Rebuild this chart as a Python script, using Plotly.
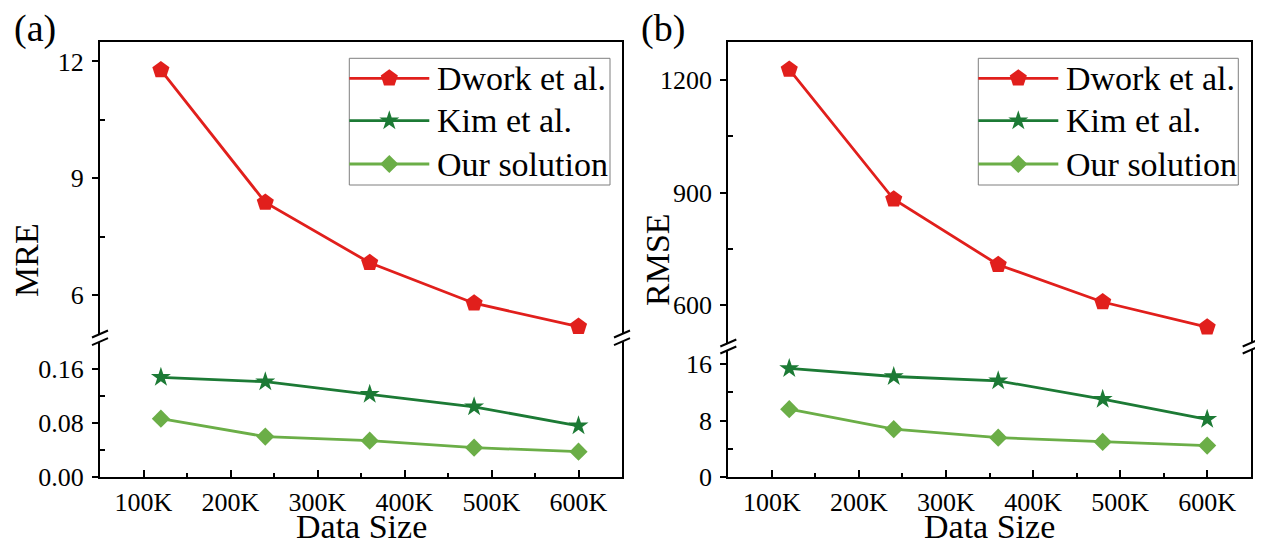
import plotly.graph_objects as go

# ---------------- data ----------------
data_sizes = [120000, 240000, 360000, 480000, 600000]
x_tick_vals = [100000, 200000, 300000, 400000, 500000, 600000]
x_tick_text = ["100K", "200K", "300K", "400K", "500K", "600K"]
x_minor_vals = [150000, 250000, 350000, 450000, 550000]

series_names = ["Dwork et al.", "Kim et al.", "Our solution"]

mre_dwork = [11.78, 8.38, 6.83, 5.79, 5.19]
mre_kim = [0.1475, 0.141, 0.1224, 0.104, 0.076]
mre_ours = [0.0864, 0.060, 0.054, 0.0437, 0.0378]

rmse_dwork = [1227, 882, 708, 609, 542]
rmse_kim = [15.4, 14.25, 13.64, 11.05, 8.2]
rmse_ours = [9.63, 6.8, 5.6, 5.0, 4.48]

mre_up_ticks = [6, 9, 12]
mre_up_minor = [7.5, 10.5]
mre_lo_ticks = [0, 0.08, 0.16]
mre_lo_text = ["0.00", "0.08", "0.16"]
mre_lo_minor = [0.04, 0.12]

rmse_up_ticks = [600, 900, 1200]
rmse_up_minor = [750, 1050]
rmse_lo_ticks = [0, 8, 16]
rmse_lo_minor = [4, 12]

# ---------------- style ----------------
WIN_W, WIN_H = 1263, 546
OFF = 8  # page body margin: the figure starts 8px from the window's top-left
W, H = WIN_W - OFF, WIN_H - OFF
FONT = "Liberation Serif, Times New Roman, serif"
RED = "#E11F1C"
DGREEN = "#1C7A35"
LGREEN = "#6BAE47"
colors = [RED, DGREEN, LGREEN]
symbols = ["pentagon", "star", "diamond"]
msizes = [18, 15, 14]
LW = 2.8


def px(x):
    return (x - OFF) / W


def py(y):
    return 1 - (y - OFF) / H


fig = go.Figure()

panels = [
    dict(xa="x", ya="y", xa_up="x2", ya_up="y2",
         up=mre_dwork, lo=[mre_kim, mre_ours],
         left=100, right=622, up_bot=334, lo_top=341.7,
         up_range=[5, 12.5], lo_range=[0, 0.2],
         up_ticks=mre_up_ticks, up_text=[str(v) for v in mre_up_ticks], up_minor=mre_up_minor,
         lo_ticks=mre_lo_ticks, lo_text=mre_lo_text, lo_minor=mre_lo_minor,
         ytitle="MRE", ytitle_x=27, label="(a)", label_x=35,
         leg_left=349.3, leg_right=610),
    dict(xa="x3", ya="y3", xa_up="x4", ya_up="y4",
         up=rmse_dwork, lo=[rmse_kim, rmse_ours],
         left=728.3, right=1250.7, up_bot=343, lo_top=350,
         up_range=[500, 1300], lo_range=[0, 18],
         up_ticks=rmse_up_ticks, up_text=[str(v) for v in rmse_up_ticks], up_minor=rmse_up_minor,
         lo_ticks=rmse_lo_ticks, lo_text=[str(v) for v in rmse_lo_ticks], lo_minor=rmse_lo_minor,
         ytitle="RMSE", ytitle_x=658, label="(b)", label_x=663,
         leg_left=978.3, leg_right=1238.3),
]

TOP, BOT = 42, 477.3
layout = {}
shapes = []
annotations = []

for p in panels:
    fig.add_trace(go.Scatter(x=data_sizes, y=p["up"], mode="lines+markers",
                             name=series_names[0], showlegend=False,
                             line=dict(color=RED, width=LW),
                             marker=dict(symbol="pentagon", size=msizes[0], color=RED),
                             xaxis=p["xa_up"], yaxis=p["ya_up"]))
    for i, ys in enumerate(p["lo"], start=1):
        fig.add_trace(go.Scatter(x=data_sizes, y=ys, mode="lines+markers",
                                 name=series_names[i], showlegend=False,
                                 line=dict(color=colors[i], width=LW),
                                 marker=dict(symbol=symbols[i], size=msizes[i], color=colors[i]),
                                 xaxis=p["xa"], yaxis=p["ya"]))

    xdom = [px(p["left"]), px(p["right"])]
    tickfont = dict(family=FONT, size=26, color="black")
    xk = "xaxis" + p["xa"][1:]
    yk = "yaxis" + p["ya"][1:]
    xku = "xaxis" + p["xa_up"][1:]
    yku = "yaxis" + p["ya_up"][1:]

    layout[xk] = dict(domain=xdom, anchor=p["ya"], range=[50000, 650000], automargin=False,
                      tickmode="array", tickvals=x_tick_vals, ticktext=x_tick_text,
                      ticks="inside", ticklen=7, tickwidth=2, tickcolor="black",
                      showline=True, linewidth=2, linecolor="black", mirror=False,
                      showgrid=False, zeroline=False, tickfont=tickfont,
                      minor=dict(tickvals=x_minor_vals, ticks="inside", ticklen=4,
                                 tickwidth=2, tickcolor="black", showgrid=False))
    layout[xku] = dict(domain=xdom, anchor=p["ya_up"], range=[50000, 650000], automargin=False,
                       matches=p["xa"], side="top", showticklabels=False, ticks="",
                       showline=True, linewidth=2, linecolor="black",
                       showgrid=False, zeroline=False)
    layout[yk] = dict(domain=[py(BOT), py(p["lo_top"])], anchor=p["xa"], automargin=False,
                      range=p["lo_range"], tickmode="array",
                      tickvals=p["lo_ticks"], ticktext=p["lo_text"],
                      ticks="outside", ticklen=6, tickwidth=2, tickcolor="black",
                      ticklabelstandoff=3,
                      showline=True, linewidth=2, linecolor="black", mirror=True,
                      showgrid=False, zeroline=False, tickfont=tickfont,
                      minor=dict(tickvals=p["lo_minor"], ticks="inside", ticklen=5,
                                 tickwidth=2, tickcolor="black", showgrid=False))
    layout[yku] = dict(domain=[py(p["up_bot"]), py(TOP)], anchor=p["xa_up"], automargin=False,
                       range=p["up_range"], tickmode="array",
                       tickvals=p["up_ticks"], ticktext=p["up_text"],
                       ticks="outside", ticklen=6, tickwidth=2, tickcolor="black",
                       ticklabelstandoff=3,
                       showline=True, linewidth=2, linecolor="black", mirror=True,
                       showgrid=False, zeroline=False, tickfont=tickfont,
                       minor=dict(tickvals=p["up_minor"], ticks="inside", ticklen=5,
                                  tickwidth=2, tickcolor="black", showgrid=False))

    for xb in (p["left"], p["right"]):
        for yb in (p["up_bot"], p["lo_top"]):
            shapes.append(dict(type="line", xref="paper", yref="paper",
                               x0=px(xb - 8), y0=py(yb + 3.5), x1=px(xb + 8), y1=py(yb - 3.5),
                               line=dict(color="black", width=2)))

    cx = (p["left"] + p["right"]) / 2
    annotations.append(dict(text="Data Size", x=px(cx), y=py(526), xref="paper", yref="paper",
                            showarrow=False, xanchor="center", yanchor="middle",
                            font=dict(family=FONT, size=34, color="black")))
    annotations.append(dict(text=p["ytitle"], x=px(p["ytitle_x"]), y=py(260), xref="paper",
                            yref="paper", showarrow=False, textangle=-90,
                            xanchor="center", yanchor="middle",
                            font=dict(family=FONT, size=34, color="black")))
    annotations.append(dict(text=p["label"], x=px(p["label_x"]), y=py(29), xref="paper",
                            yref="paper", showarrow=False, xanchor="center", yanchor="middle",
                            font=dict(family=FONT, size=38, color="black")))

    lt, lb = 58.3, 185
    shapes.append(dict(type="rect", xref="paper", yref="paper",
                       x0=px(p["leg_left"]), x1=px(p["leg_right"]), y0=py(lb), y1=py(lt),
                       line=dict(color="#7f7f7f", width=1), fillcolor="rgba(0,0,0,0)"))
    row_y = [78.3, 120.7, 164]
    for i in range(3):
        shapes.append(dict(type="line", xref="paper", yref="paper",
                           x0=px(p["leg_left"]), x1=px(p["leg_left"] + 80),
                           y0=py(row_y[i]), y1=py(row_y[i]),
                           line=dict(color=colors[i], width=LW)))
        fig.add_trace(go.Scatter(x=[p["leg_left"] + 40], y=[row_y[i]], mode="markers",
                                 showlegend=False, hoverinfo="skip",
                                 marker=dict(symbol=symbols[i], size=msizes[i], color=colors[i]),
                                 xaxis="x5", yaxis="y5"))
        annotations.append(dict(text=series_names[i], x=px(p["leg_left"] + 86), y=py(row_y[i]),
                                xref="paper", yref="paper", showarrow=False,
                                xanchor="left", yanchor="middle",
                                font=dict(family=FONT, size=34, color="black")))

# overlay axis in window-pixel units (used only for the legend swatch markers)
layout["xaxis5"] = dict(domain=[0, 1], range=[OFF, WIN_W], visible=False, anchor="y5",
                        automargin=False, fixedrange=True)
layout["yaxis5"] = dict(domain=[0, 1], range=[WIN_H, OFF], visible=False, anchor="x5",
                        automargin=False, fixedrange=True)

fig.update_layout(template="none", width=W, height=H, autosize=False,
                  margin=dict(l=0, r=0, t=0, b=0, pad=0, autoexpand=False),
                  paper_bgcolor="white", plot_bgcolor="rgba(0,0,0,0)",
                  showlegend=False, shapes=shapes, annotations=annotations,
                  font=dict(family=FONT, color="black"), **layout)

fig.write_html("out.html")
